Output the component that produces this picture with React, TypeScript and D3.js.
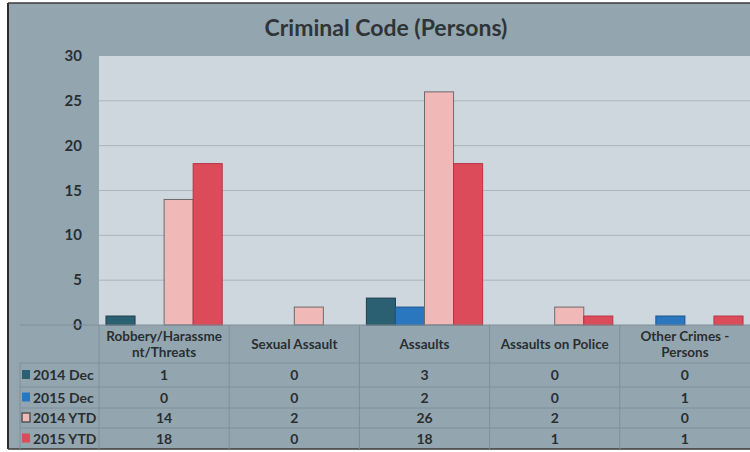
import React from "react";
import * as d3 from "d3";

const categories = [
  ["Robbery/Harassme", "nt/Threats"],
  ["Sexual Assault"],
  ["Assaults"],
  ["Assaults on Police"],
  ["Other Crimes -", "Persons"],
];
const seriesNames = ["2014 Dec", "2015 Dec", "2014 YTD", "2015 YTD"];
const dec2014 = [1, 0, 3, 0, 0];
const dec2015 = [0, 0, 2, 0, 1];
const ytd2014 = [14, 2, 26, 2, 0];
const ytd2015 = [18, 0, 18, 1, 1];
const yTicks = [0, 5, 10, 15, 20, 25, 30];

const seriesValues = [dec2014, dec2015, ytd2014, ytd2015];
const fills = ["#2b5f72", "#2a77c0", "#f1b8b8", "#dc4b5a"];
const strokes = ["#1d3f4c", "#1c5490", "#6e6a6a", "#b83444"];

const width = 750;
const height = 452;
const plot = { left: 99, right: 750, top: 56, bottom: 325 };
const tableLeft = 20;
const headerBottom = 363;
const rowLines = [363, 387, 408, 428, 449];

const font = "Lato, 'Open Sans', sans-serif";
const textColor = "#2a2e31";

export default function App() {
  const catKeys = categories.map((c) => c.join(""));
  const x0 = d3.scaleBand<string>().domain(catKeys).range([plot.left, plot.right]);
  const x1 = d3
    .scaleBand<string>()
    .domain(seriesNames)
    .range([0, x0.bandwidth()])
    .paddingOuter(0.24);
  const y = d3.scaleLinear().domain([0, 30]).range([plot.bottom, plot.top]);

  return (
    <svg
      width={width}
      height={height}
      style={{ position: "absolute", left: 0, top: 0, fontFamily: font }}
    >
      <rect x={0} y={0} width={width} height={height} fill="#ffffff" />
      <rect x={8} y={3} width={width - 8} height={446} fill="#93a6af" />
      <line x1={8} x2={8} y1={3} y2={449} stroke="#2c2c2c" strokeWidth={2} />
      <line x1={8} x2={width} y1={3} y2={3} stroke="#3a3a3a" strokeWidth={1.5} />
      <line x1={8} x2={width} y1={449} y2={449} stroke="#3a3a3a" strokeWidth={1.5} />

      <text
        x={386}
        y={36}
        textAnchor="middle"
        fontSize={23}
        fontWeight="bold"
        fill="#2f3437"
      >
        Criminal Code (Persons)
      </text>

      <rect
        x={plot.left}
        y={plot.top}
        width={plot.right - plot.left}
        height={plot.bottom - plot.top}
        fill="#cfd7de"
      />
      {yTicks.slice(1, -1).map((t) => (
        <line
          key={t}
          x1={plot.left}
          x2={plot.right}
          y1={y(t)}
          y2={y(t)}
          stroke="#a9b4bb"
          strokeWidth={1}
        />
      ))}
      {yTicks.map((t) => (
        <text
          key={t}
          x={82}
          y={y(t) + 5}
          textAnchor="end"
          fontSize={15}
          fontWeight="bold"
          fill={textColor}
        >
          {t}
        </text>
      ))}

      {seriesValues.map((vals, si) =>
        vals.map((v, ci) =>
          v > 0 ? (
            <rect
              key={`${si}-${ci}`}
              x={(x0(catKeys[ci]) ?? 0) + (x1(seriesNames[si]) ?? 0)}
              y={y(v)}
              width={x1.bandwidth()}
              height={y(0) - y(v)}
              fill={fills[si]}
              stroke={strokes[si]}
              strokeWidth={1}
            />
          ) : null
        )
      )}

      <line x1={tableLeft} x2={plot.right} y1={plot.bottom} y2={plot.bottom} stroke="#7f9099" />
      {rowLines.slice(0, -1).map((ly) => (
        <line key={ly} x1={tableLeft} x2={plot.right} y1={ly} y2={ly} stroke="#7f9099" strokeWidth={1} />
      ))}
      {catKeys.map((k) => (
        <line
          key={k}
          x1={x0(k) ?? 0}
          x2={x0(k) ?? 0}
          y1={plot.bottom}
          y2={449}
          stroke="#7f9099"
          strokeWidth={1}
        />
      ))}
      <line x1={tableLeft} x2={tableLeft} y1={headerBottom} y2={449} stroke="#7f9099" />

      {categories.map((lines, ci) => {
        const cx = (x0(catKeys[ci]) ?? 0) + x0.bandwidth() / 2;
        const cy = (plot.bottom + headerBottom) / 2;
        const lh = 16;
        return (
          <text
            key={ci}
            textAnchor="middle"
            fontSize={13.5}
            fontWeight="bold"
            fill={textColor}
          >
            {lines.map((l, li) => (
              <tspan
                key={li}
                x={cx}
                y={cy + 5 + (li - (lines.length - 1) / 2) * lh}
              >
                {l}
              </tspan>
            ))}
          </text>
        );
      })}

      {seriesNames.map((name, si) => {
        const cy = (rowLines[si] + rowLines[si + 1]) / 2 + 5;
        return (
          <g key={name}>
            <rect
              x={22}
              y={cy - 10}
              width={8}
              height={9}
              fill={fills[si]}
              stroke={si === 2 ? "#555" : fills[si]}
              strokeWidth={si === 2 ? 1.5 : 0}
            />
            <text x={33} y={cy} fontSize={14} fontWeight="bold" fill={textColor}>
              {name}
            </text>
            {seriesValues[si].map((v, ci) => (
              <text
                key={ci}
                x={(x0(catKeys[ci]) ?? 0) + x0.bandwidth() / 2}
                y={cy}
                textAnchor="middle"
                fontSize={14}
                fontWeight="bold"
                fill={textColor}
              >
                {v}
              </text>
            ))}
          </g>
        );
      })}
    </svg>
  );
}
